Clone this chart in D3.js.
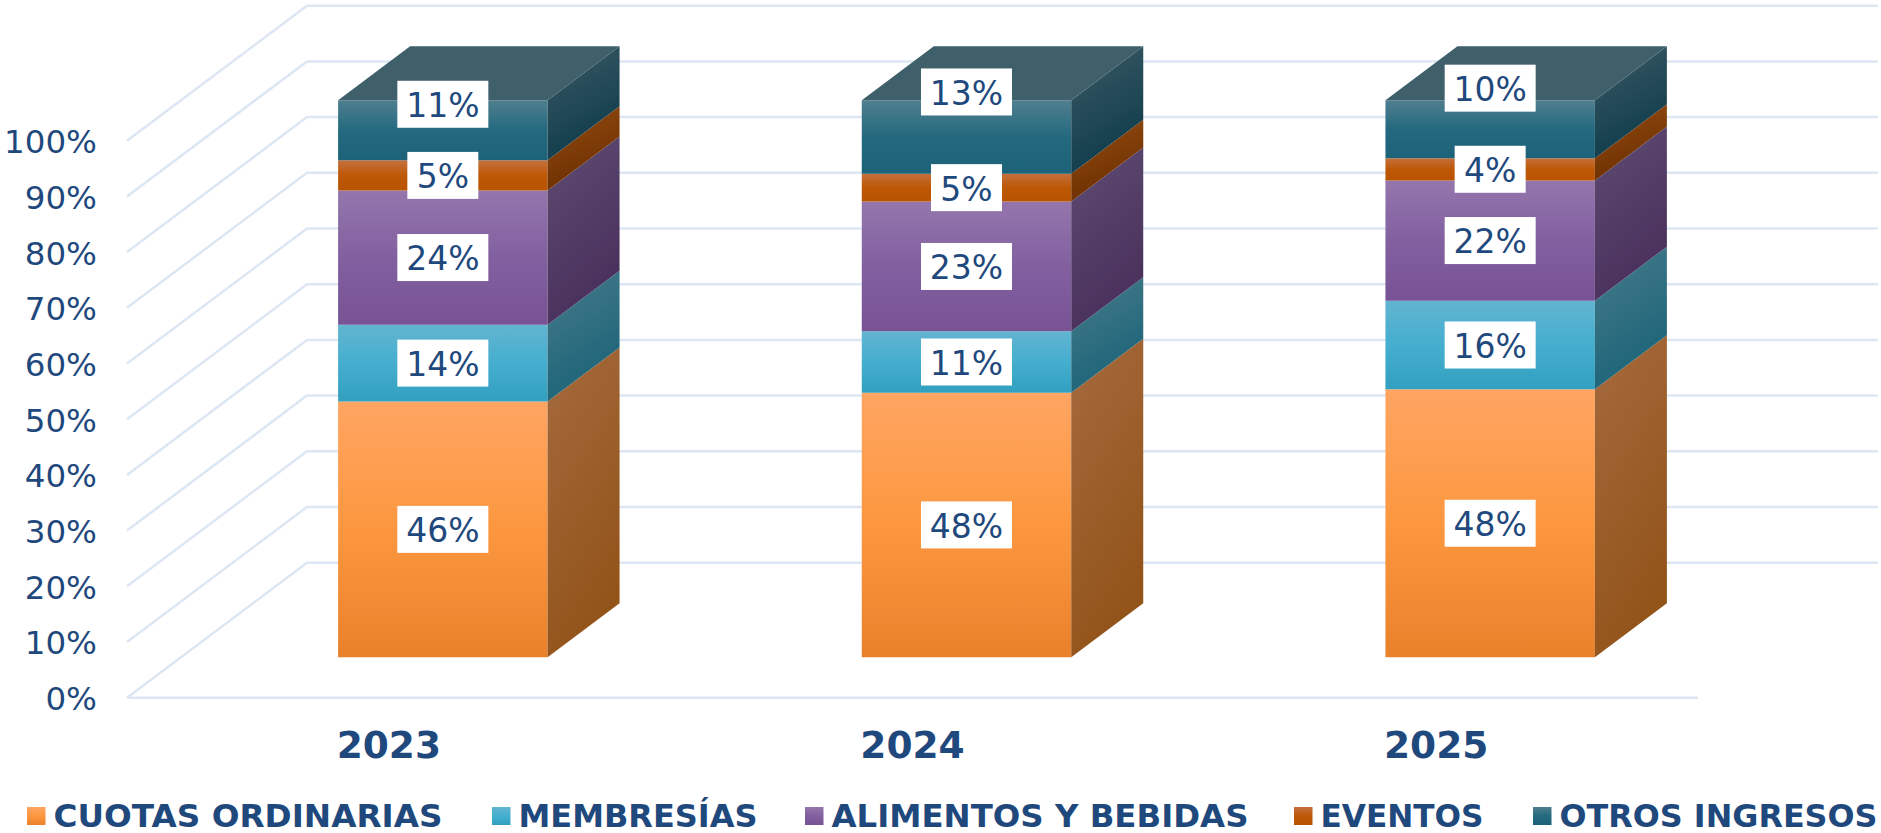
<!DOCTYPE html>
<html>
<head>
<meta charset="utf-8">
<script src="https://cdn.jsdelivr.net/npm/d3@7"></script>
<style>
  html, body { margin: 0; padding: 0; background: #fff; }
  svg { display: block; }
</style>
</head>
<body>
<div id="chart"></div>
<script>
const years = ["2023", "2024", "2025"];
const seriesNames = ["CUOTAS ORDINARIAS", "MEMBRESÍAS", "ALIMENTOS Y BEBIDAS", "EVENTOS", "OTROS INGRESOS"];
const cuotas = [45.9, 47.5, 48.1];
const membresias = [13.8, 11.0, 15.9];
const alimentos = [24.1, 23.3, 21.6];
const eventos = [5.4, 5.0, 4.0];
const otros = [10.8, 13.2, 10.4];
const labelCuotas = ["46%", "48%", "48%"];
const labelMembresias = ["14%", "11%", "16%"];
const labelAlimentos = ["24%", "23%", "22%"];
const labelEventos = ["5%", "5%", "4%"];
const labelOtros = ["11%", "13%", "10%"];
const percentTicks = [0, 10, 20, 30, 40, 50, 60, 70, 80, 90, 100];

const width = 1881;
const height = 833;
const textBlue = "#1f497d";
const gridColor = "#dde7f3";

const allValues = [cuotas, membresias, alimentos, eventos, otros];
const allLabels = [labelCuotas, labelMembresias, labelAlimentos, labelEventos, labelOtros];

// front gradient stops and side gradient ends for each series
const frontStops = [
  ["#ffa562", "#fc973f", "#e9812b"],
  ["#62b5d0", "#45aecf", "#32a0c0"],
  ["#9476ac", "#8260a0", "#775294"],
  ["#c4703e", "#bd5806", "#b95300"],
  ["#507f8f", "#24697f", "#1c6278"]
];
const sideStops = [
  ["#a56a3e", "#93541a"],
  ["#457b8b", "#1d6478"],
  ["#5e4c72", "#49305c"],
  ["#944c12", "#6c2f00"],
  ["#3c5a65", "#0f3c4b"]
];
const topColor = "#3f5f6b";
const legendX = [27, 492, 805, 1294, 1533];
// legend text is wider in some words than the fallback font, so fit it
const legendWidth = [389, 239, 417, 163, 318];

// the plot is a floor plane pushed back in depth
const floorY = 697.7;
const depthX = 180;
const depthY = 135;
const barNear = 0.3;
const barFar = 0.7;

const x = d3.scaleBand().domain(years).range([127, 1698]).paddingInner(0.6).paddingOuter(0.3);
const y = d3.scaleLinear().domain([0, 100]).range([floorY, floorY - 557]);

const px = (v, z) => v + z * depthX;
const py = (v, z) => y(v) - z * depthY;
const poly = pts => pts.map(p => p.join(",")).join(" ");

const svg = d3.select("#chart").append("svg")
  .attr("width", width)
  .attr("height", height)
  .style("font-family", "'DejaVu Sans', sans-serif");

const defs = svg.append("defs");
frontStops.forEach((stops, i) => {
  const g = defs.append("linearGradient").attr("id", `front${i}`)
    .attr("x1", 0).attr("y1", 0).attr("x2", 0).attr("y2", 1);
  [0, 0.5, 1].forEach((o, j) => g.append("stop").attr("offset", o).attr("stop-color", stops[j]));
});
sideStops.forEach((stops, i) => {
  const g = defs.append("linearGradient").attr("id", `side${i}`)
    .attr("x1", 0).attr("y1", 0).attr("x2", 0.35).attr("y2", 1);
  [0, 1].forEach(j => g.append("stop").attr("offset", j).attr("stop-color", stops[j]));
});

// gridlines: back wall plus left wall
const x0 = x.range()[0];
const x1 = x.range()[1];
const grid = svg.append("g").attr("fill", "none").attr("stroke", gridColor).attr("stroke-width", 2.5);
percentTicks.forEach(t => {
  grid.append("polyline").attr("points", poly([
    [px(x0, 0), py(t, 0)],
    [px(x0, 1), py(t, 1)],
    [px(x1, 1), py(t, 1)]
  ]));
});
grid.append("line")
  .attr("x1", x0).attr("x2", x1)
  .attr("y1", y(0)).attr("y2", y(0));

// bars
const labelLayer = [];
years.forEach((year, c) => {
  const left = x(year);
  const right = left + x.bandwidth();
  const g = svg.append("g");
  let base = 0;
  allValues.forEach((vals, s) => {
    const top = base + vals[c];
    g.append("polygon")
      .attr("points", poly([
        [px(left, barNear), py(top, barNear)],
        [px(right, barNear), py(top, barNear)],
        [px(right, barNear), py(base, barNear)],
        [px(left, barNear), py(base, barNear)]
      ]))
      .attr("fill", `url(#front${s})`);
    g.append("polygon")
      .attr("points", poly([
        [px(right, barNear), py(top, barNear)],
        [px(right, barFar), py(top, barFar)],
        [px(right, barFar), py(base, barFar)],
        [px(right, barNear), py(base, barNear)]
      ]))
      .attr("fill", `url(#side${s})`);
    labelLayer.push({ c, s, text: allLabels[s][c], cx: px(left + x.bandwidth() / 2, barNear), cy: (py(top, barNear) + py(base, barNear)) / 2 });
    base = top;
  });
  g.append("polygon")
    .attr("points", poly([
      [px(left, barNear), py(base, barNear)],
      [px(left, barFar), py(base, barFar)],
      [px(right, barFar), py(base, barFar)],
      [px(right, barNear), py(base, barNear)]
    ]))
    .attr("fill", topColor);
});

// the top labels were dragged up by hand in the original
const topLabelLift = [26, 45, 41];
const labels = svg.append("g");
labelLayer.forEach(d => {
  const cy = d.s === 4 ? d.cy - topLabelLift[d.c] : d.cy;
  const w = d.text.length === 3 ? 91 : 71;
  labels.append("rect")
    .attr("x", d.cx - w / 2).attr("y", cy - 23.5)
    .attr("width", w).attr("height", 47)
    .attr("fill", "#fff");
  labels.append("text")
    .attr("x", d.cx).attr("y", cy + 1)
    .attr("dy", "0.36em")
    .attr("text-anchor", "middle")
    .attr("font-size", 33)
    .attr("fill", textBlue)
    .text(d.text);
});

// axes
const yAxis = svg.append("g")
  .attr("transform", "translate(97,1.5)")
  .call(d3.axisLeft(y).tickValues(percentTicks).tickFormat(d => d + "%").tickSize(0).tickPadding(0));
yAxis.select(".domain").remove();
yAxis.selectAll("text")
  .attr("font-size", 32.5)
  .attr("font-family", "'DejaVu Sans', sans-serif")
  .attr("fill", textBlue);

const xAxis = svg.append("g")
  .attr("transform", "translate(0,731)")
  .call(d3.axisBottom(x).tickSize(0).tickPadding(0));
xAxis.select(".domain").remove();
xAxis.selectAll("text")
  .attr("font-size", 37.5)
  .attr("font-weight", "bold")
  .attr("font-family", "'DejaVu Sans', sans-serif")
  .attr("fill", textBlue);

// legend
const legend = svg.append("g");
seriesNames.forEach((name, i) => {
  legend.append("rect")
    .attr("x", legendX[i]).attr("y", 807)
    .attr("width", 18.5).attr("height", 18)
    .attr("fill", `url(#front${i})`);
  legend.append("text")
    .attr("x", legendX[i] + 26.5).attr("y", 826.5)
    .attr("font-size", 32)
    .attr("font-weight", "bold")
    .attr("fill", textBlue)
    .attr("textLength", legendWidth[i])
    .attr("lengthAdjust", "spacingAndGlyphs")
    .text(name);
});
</script>
</body>
</html>
